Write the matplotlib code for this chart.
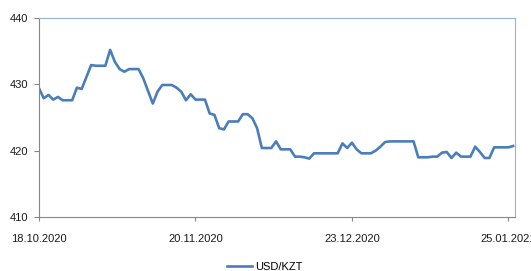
import numpy as np
import pandas as pd
import matplotlib
matplotlib.use("Agg")
import matplotlib.pyplot as plt
import matplotlib.dates as mdates

# daily USD/KZT rate, 18.10.2020 .. 26.01.2021
start_date = "2020-10-18"
usd_kzt = [
    429.4, 427.9, 428.4, 427.7, 428.1, 427.6, 427.6, 427.6, 429.5, 429.3,
    431.1, 432.9, 432.8, 432.8, 432.8, 435.2, 433.4, 432.3, 431.9, 432.3,
    432.3, 432.3, 430.9, 429.0, 427.1, 428.9, 429.9, 429.9, 429.9, 429.5,
    428.9, 427.6, 428.5, 427.7, 427.7, 427.7, 425.6, 425.4, 423.4, 423.2,
    424.4, 424.4, 424.4, 425.5, 425.5, 424.9, 423.4, 420.4, 420.4, 420.4,
    421.4, 420.2, 420.2, 420.2, 419.1, 419.1, 419.0, 418.8, 419.6, 419.6,
    419.6, 419.6, 419.6, 419.6, 421.1, 420.4, 421.2, 420.2, 419.6, 419.6,
    419.6, 420.0, 420.6, 421.3, 421.4, 421.4, 421.4, 421.4, 421.4, 421.4,
    419.0, 419.0, 419.0, 419.1, 419.1, 419.7, 419.8, 418.9, 419.7, 419.1,
    419.1, 419.1, 420.6, 419.8, 418.9, 418.9, 420.5, 420.5, 420.5, 420.5,
    420.7,
]
tick_dates = ["2020-10-18", "2020-11-20", "2020-12-23", "2021-01-25"]
tick_labels = ["18.10.2020", "20.11.2020", "23.12.2020", "25.01.2021"]
y_ticks = [410, 420, 430, 440]

dates = pd.date_range(start_date, periods=len(usd_kzt), freq="D")

plt.rcParams["font.family"] = ["Liberation Sans", "DejaVu Sans"]

fig = plt.figure(figsize=(5.31, 2.71), dpi=100)
ax = fig.add_axes([39 / 531, 1 - 217 / 271, 476 / 531, 199 / 271])

ax.plot(dates, usd_kzt, color="#4a7ebb", lw=1.9, label="USD/KZT",
        solid_joinstyle="round")

ax.set_ylim(410, 440)
ax.set_yticks(y_ticks)
ax.set_xlim(pd.Timestamp(start_date), pd.Timestamp(start_date) + pd.Timedelta(days=100.4))
ax.set_xticks(pd.to_datetime(tick_dates))
ax.set_xticklabels(tick_labels)

for s in ["left", "bottom"]:
    ax.spines[s].set_color("#868686")
    ax.spines[s].set_linewidth(0.8)
for s in ["top", "right"]:
    ax.spines[s].set_color("#95b3d7")
    ax.spines[s].set_linewidth(0.8)

ax.tick_params(axis="y", length=3.5, width=0.8, color="#868686", pad=4.5,
               labelsize=8, labelcolor="#1a1a1a")
ax.tick_params(axis="x", length=3, width=0.8, color="#868686", pad=9,
               labelsize=8, labelcolor="#1a1a1a")

fig.legend(loc="center", bbox_to_anchor=(265 / 531, 1 - 267 / 271), frameon=False,
           fontsize=8, handlelength=2.2, handletextpad=0.3)

fig.savefig("out.png", dpi=100)
